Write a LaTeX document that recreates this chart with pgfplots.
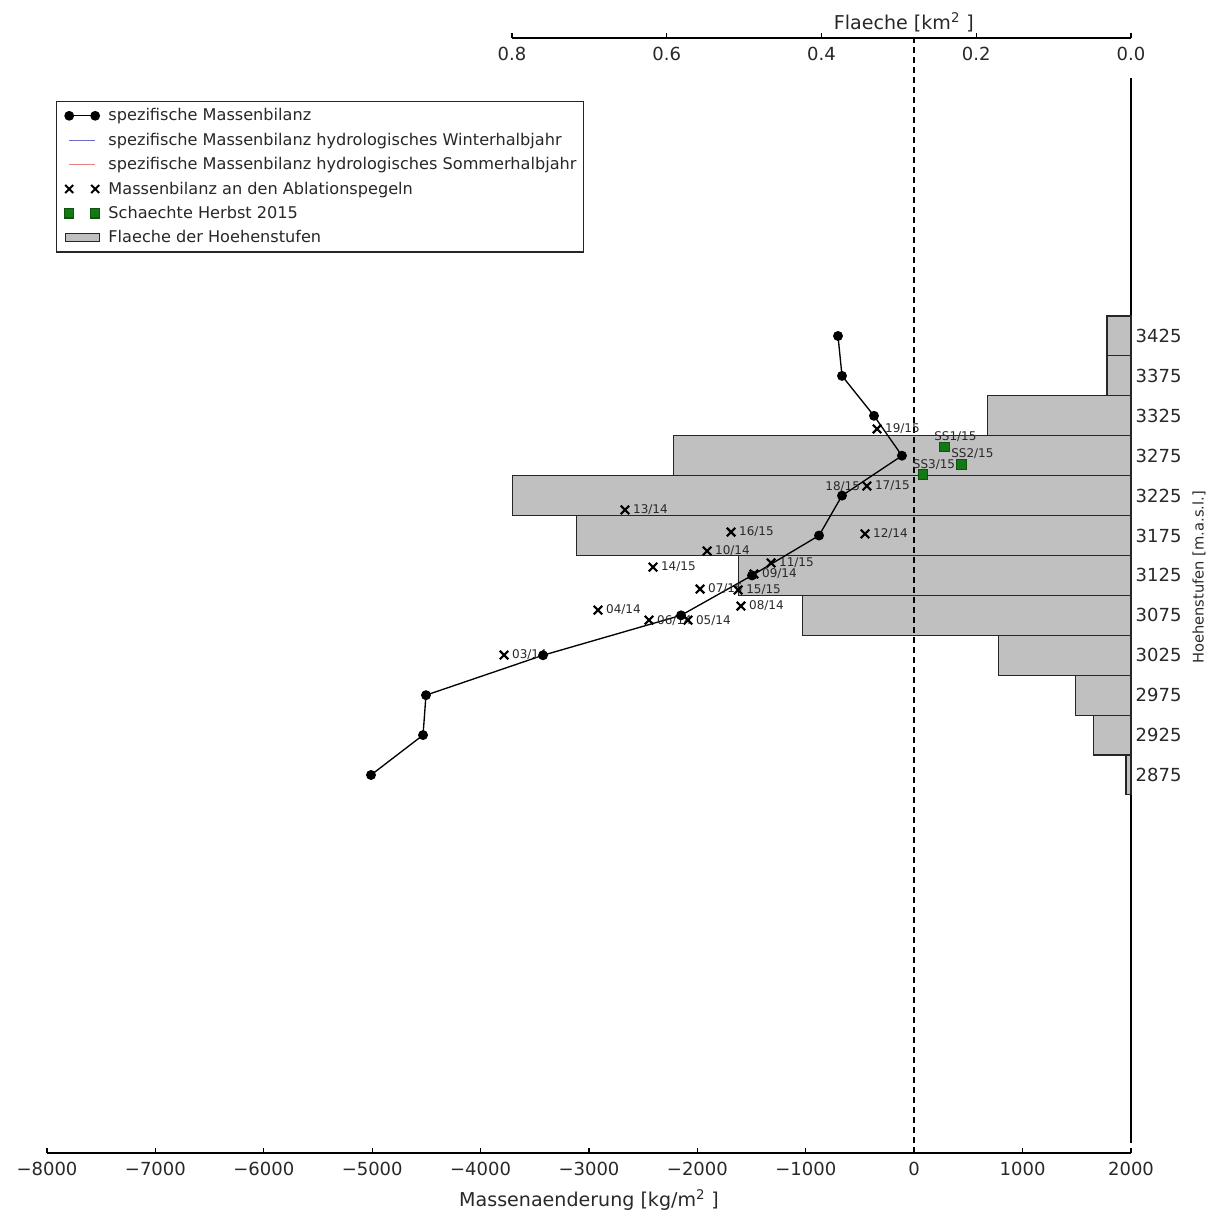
\documentclass[border=0pt]{standalone}
\usepackage{fontspec}
\setmainfont{DejaVu Sans}
\usepackage{pgfplots}
\usepackage{pgfplotstable}
\pgfplotsset{compat=1.18}
\definecolor{barfill}{RGB}{192,192,192}
\definecolor{sgreen}{RGB}{20,120,20}
\definecolor{wblue}{RGB}{110,110,200}
\definecolor{sred}{RGB}{230,130,130}
\definecolor{txt}{RGB}{40,40,40}

\pgfplotstableread{
x y
-703 3425
-666 3375
-371 3325
-113 3275
-666 3225
-878 3175
-1496 3125
-2151 3075
-3424 3025
-4504 2975
-4531 2925
-5011 2875
}\bilanz

\pgfplotstableread{
x y label
-343 3308.5 19/15
-436 3237 17/15
-2668 3207 13/14
-1690 3179.4 16/15
-454 3177 12/14
-1911 3155.6 10/14
-1321 3140.6 11/15
-1478 3126.8 09/14
-2410 3135.5 14/15
-1976 3108 07/15
-1624 3106.7 15/15
-1598 3086.7 08/14
-2917 3081.6 04/14
-2446 3069 06/14
-2087 3069 05/14
-3784 3025.3 03/14
}\pegel

\pgfplotstableread{
x y label
-887 3235.8 18/15
}\pegelhidden

\pgfplotstableread{
x y label
275 3286.3 SS1/15
432 3264.6 SS2/15
78 3251.7 SS3/15
}\schacht

\pgfplotstableread{
area elev
0.031 3425
0.031 3375
0.185 3325
0.591 3275
0.799 3225
0.717 3175
0.507 3125
0.424 3075
0.171 3025
0.072 2975
0.049 2925
0.0065 2875
}\flaeche

\begin{document}
\begin{tikzpicture}
\path[use as bounding box] (0pt,0pt) rectangle (907.5pt,-908.25pt);

% bars and right spine
\begin{axis}[
  at={(384pt,-857.25pt)}, anchor=south west,
  scale only axis, width=464.25pt, height=798.75pt,
  xmin=0, xmax=0.8, x dir=reverse,
  ymin=2413.9, ymax=3748.2,
  axis x line=none, axis y line=right,
  axis line style={-, black, line width=1pt},
  tick align=inside, major tick length=4pt,
  tick style={black, line width=0.8pt},
  ytick={2875,2925,2975,3025,3075,3125,3175,3225,3275,3325,3375,3425},
  yticklabels={2875,2925,2975,3025,3075,3125,3175,3225,3275,3325,3375,3425},
  yticklabel style={font=\fontsize{13.5}{15}\selectfont, text=txt, anchor=west},
  ylabel={\rotatebox{90}{Hoehenstufen [m.a.s.l.]}},
  every axis y label/.style={at={(axis description cs:1,0.531)}, anchor=west, xshift=46pt, inner sep=0pt, font=\fontsize{11}{13}\selectfont, text=txt},
  clip=false,
]
\addplot[xbar, bar width=50, bar shift=0pt, fill=barfill, draw=black!85, line width=0.8pt] table[x=area, y=elev] {\flaeche};
\end{axis}

% top axis (area)
\begin{axis}[
  at={(384pt,-28.5pt)}, anchor=south west,
  scale only axis, width=464.25pt, height=10pt,
  xmin=0, xmax=0.8, x dir=reverse, ymin=0, ymax=1,
  axis x line=bottom, axis y line=none,
  axis line style={-, black, line width=1pt},
  tick align=inside, major tick length=4pt,
  tick style={black, line width=0.8pt},
  xtick={0,0.2,0.4,0.6,0.8},
  xticklabels={0.0,0.2,0.4,0.6,0.8},
  xticklabel style={font=\fontsize{13.5}{15}\selectfont, text=txt, anchor=north, yshift=-3pt},
  xlabel={Flaeche [km\textsuperscript{2} ]},
  every axis x label/.style={at={(axis description cs:0.633,0)}, anchor=south, yshift=1pt, font=\fontsize{14.3}{17}\selectfont, text=txt},
]
\addplot[draw=none] coordinates {(0.4,0.5)};
\end{axis}

% main axis (mass balance)
\begin{axis}[
  at={(35.25pt,-864.75pt)}, anchor=south west,
  scale only axis, width=813pt, height=836.25pt,
  xmin=-8000, xmax=2000, ymin=2401.4, ymax=3798.3,
  axis x line=bottom, axis y line=none,
  axis line style={-, black, line width=1pt},
  tick align=inside, major tick length=4pt,
  tick style={black, line width=0.8pt},
  xtick={-8000,-7000,-6000,-5000,-4000,-3000,-2000,-1000,0,1000,2000},
  xticklabels={−8000,−7000,−6000,−5000,−4000,−3000,−2000,−1000,0,1000,2000},
  xticklabel style={font=\fontsize{13.5}{15}\selectfont, text=txt, anchor=north, yshift=-3.5pt},
  xlabel={Massenaenderung [kg/m\textsuperscript{2} ]},
  xlabel style={font=\fontsize{14.3}{17}\selectfont, text=txt, yshift=-3.5pt},
  clip=false,
  legend style={at={(axis description cs:0.0083,0.9435)}, anchor=north west,
    draw=black!85, line width=0.9pt, fill=white, inner xsep=5.5pt, inner ysep=1.5pt,
    font=\fontsize{12.1}{14}\selectfont, text=txt, row sep=0pt,
    nodes={inner sep=0pt, minimum height=18.3pt},
    /tikz/every odd column/.append style={column sep=6pt}},
  legend cell align=left,
]
\addplot[black, line width=1.1pt, dash pattern=on 4.5pt off 3pt, forget plot] coordinates {(0,2401.4) (0,3798.3)};

\addplot[only marks, mark=x, mark size=4.5pt, mark options={line width=1.6pt, black},
  nodes near coords, point meta=explicit symbolic,
  nodes near coords style={anchor=west, font=\fontsize{9}{10}\selectfont, text=txt, inner sep=1pt, xshift=4.3pt},
  forget plot] table[x=x, y=y, meta=label] {\pegel};

\addplot[only marks, mark=text, text mark={},
  nodes near coords, point meta=explicit symbolic,
  nodes near coords style={anchor=west, font=\fontsize{9}{10}\selectfont, text=txt, inner sep=1pt, xshift=4.3pt},
  forget plot] table[x=x, y=y, meta=label] {\pegelhidden};

\addplot[only marks, mark=square*, mark size=3.6pt, mark options={fill=sgreen, draw=sgreen!70!black},
  nodes near coords, point meta=explicit symbolic,
  nodes near coords style={anchor=west, font=\fontsize{9}{10}\selectfont, text=txt, inner sep=1pt, xshift=-8.5pt, yshift=7.5pt},
  forget plot] table[x=x, y=y, meta=label] {\schacht};

\addplot[black, line width=1pt, mark=*, mark size=3.2pt, forget plot] table[x=x, y=y] {\bilanz};

\addlegendimage{legend image code/.code={
  \draw[black, line width=1pt] (0pt,0pt) -- (19.5pt,0pt);
  \fill[black] (0pt,0pt) circle (3.2pt);
  \fill[black] (19.5pt,0pt) circle (3.2pt);}}
\addlegendentry{spezifische Massenbilanz}
\addlegendimage{legend image code/.code={
  \draw[wblue, line width=1pt] (0pt,0pt) -- (19.5pt,0pt);}}
\addlegendentry{spezifische Massenbilanz hydrologisches Winterhalbjahr}
\addlegendimage{legend image code/.code={
  \draw[sred, line width=1pt] (0pt,0pt) -- (19.5pt,0pt);}}
\addlegendentry{spezifische Massenbilanz hydrologisches Sommerhalbjahr}
\addlegendimage{legend image code/.code={
  \draw[black, line width=1.5pt] (-3pt,-3pt) -- (3pt,3pt) (-3pt,3pt) -- (3pt,-3pt)
     (16.5pt,-3pt) -- (22.5pt,3pt) (16.5pt,3pt) -- (22.5pt,-3pt);}}
\addlegendentry{Massenbilanz an den Ablationspegeln}
\addlegendimage{legend image code/.code={
  \filldraw[fill=sgreen, draw=sgreen!70!black] (-3.5pt,-3.5pt) rectangle (3.5pt,3.5pt)
     (16pt,-3.5pt) rectangle (23pt,3.5pt);}}
\addlegendentry{Schaechte Herbst 2015}
\addlegendimage{legend image code/.code={
  \filldraw[fill=barfill, draw=black!85, line width=0.8pt] (-3pt,-3pt) rectangle (22.5pt,3pt);}}
\addlegendentry{Flaeche der Hoehenstufen}
\end{axis}
\end{tikzpicture}
\end{document}
